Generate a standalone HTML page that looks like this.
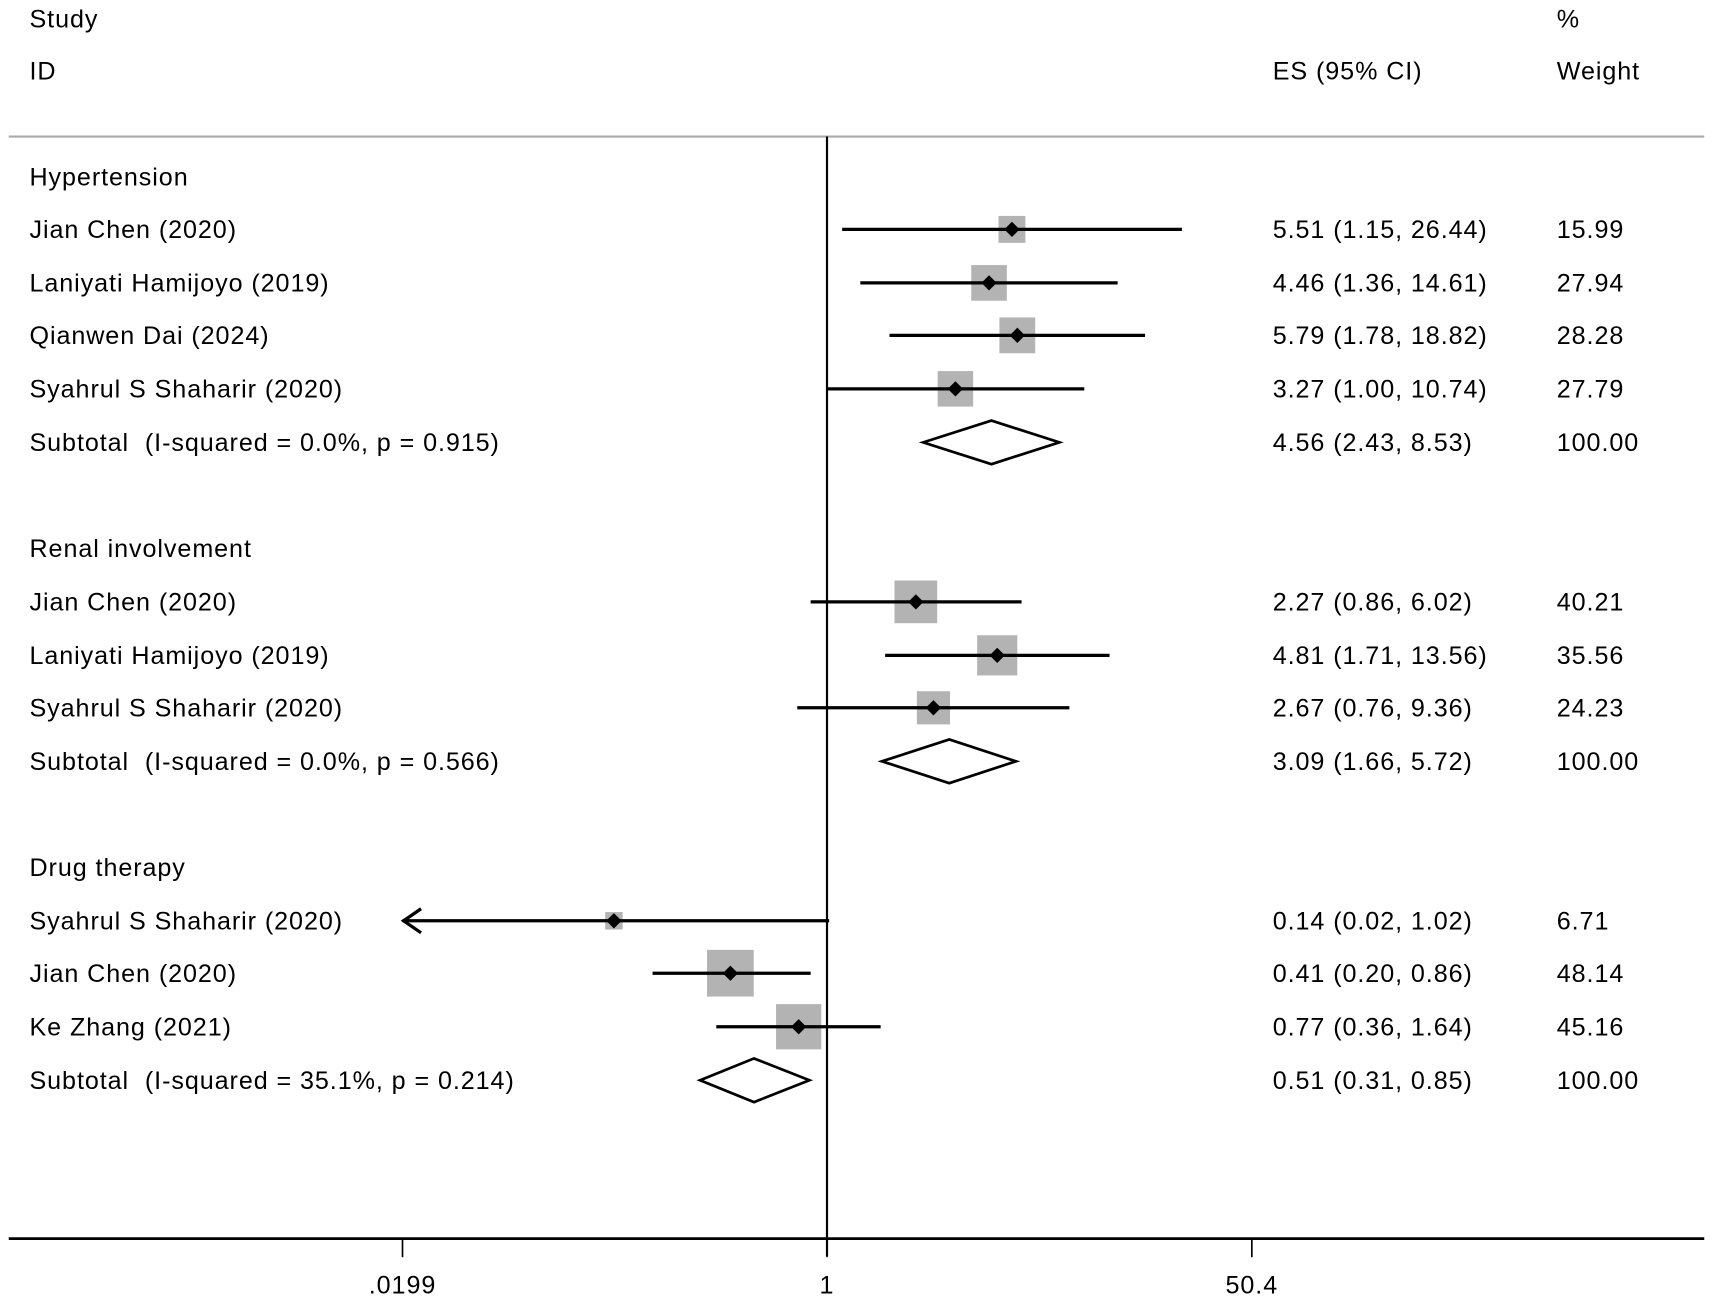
<!DOCTYPE html>
<html><head><meta charset="utf-8"><style>
html,body{margin:0;padding:0;background:#fff;}
svg{display:block;}
text{font-family:"Liberation Sans",Arial,sans-serif;font-size:23px;letter-spacing:0.85px;fill:#000;white-space:pre;}
</style></head><body>
<svg id="chart" width="1713" height="1302" viewBox="0 0 1568 1192" preserveAspectRatio="none" xmlns="http://www.w3.org/2000/svg">
<g id="g"></g>
</svg>
<script>
const labels=["Jian Chen (2020)","Laniyati Hamijoyo (2019)","Qianwen Dai (2024)","Syahrul S Shaharir (2020)","Jian Chen (2020)","Laniyati Hamijoyo (2019)","Syahrul S Shaharir (2020)","Syahrul S Shaharir (2020)","Jian Chen (2020)","Ke Zhang (2021)"];
const es=[5.51,4.46,5.79,3.27,2.27,4.81,2.67,0.14,0.41,0.77];
const lo=[1.15,1.36,1.78,1.00,0.86,1.71,0.76,0.02,0.20,0.36];
const hi=[26.44,14.61,18.82,10.74,6.02,13.56,9.36,1.02,0.86,1.64];
const weights=[15.99,27.94,28.28,27.79,40.21,35.56,24.23,6.71,48.14,45.16];
const studyRows=[210,259,307,356,551,600,648,843,891,940];
const groups=["Hypertension","Renal involvement","Drug therapy"];
const groupRows=[162,502,794];
const subLabels=["Subtotal  (I-squared = 0.0%, p = 0.915)","Subtotal  (I-squared = 0.0%, p = 0.566)","Subtotal  (I-squared = 35.1%, p = 0.214)"];
const subEs=[4.56,3.09,0.51];
const subLo=[2.43,1.66,0.31];
const subHi=[8.53,5.72,0.85];
const subRows=[405,697,989];
const ticks=[0.0199,1,50.4];
const tickLabels=[".0199","1","50.4"];

const NS="http://www.w3.org/2000/svg";
const g=document.getElementById('g');
const xMin=0.0199,xMax=50.4;
function xs(v){return 757+99.2*Math.log(v);}
function mk(tag,attrs,txt){const e=document.createElementNS(NS,tag);for(const k in attrs)e.setAttribute(k,attrs[k]);if(txt!==undefined)e.textContent=txt;g.appendChild(e);return e;}
function fmt(v){return v.toFixed(2);}

let e;
e=mk('text',{x:27,y:25},'Study');


e=mk('text',{x:27,y:73},'ID');


e=mk('text',{x:1165,y:73},'ES (95% CI)');


e=mk('text',{x:1425,y:25},'%');


e=mk('text',{x:1425,y:73},'Weight');


e=mk('line',{x1:8,x2:1560,y1:125,y2:125,stroke:'#aaa','stroke-width':2});


e=mk('line',{x1:xs(1),x2:xs(1),y1:125,y2:1150,stroke:'#000','stroke-width':2});


e=mk('line',{x1:8,x2:1560,y1:1134,y2:1134,stroke:'#000','stroke-width':2.5});


for(let i=0;i<ticks.length;i++){
  e=mk('line',{x1:xs(ticks[i]),x2:xs(ticks[i]),y1:1134,y2:1151,stroke:'#000','stroke-width':1.5});
  
  
  e=mk('text',{x:xs(ticks[i]),y:1184,'text-anchor':'middle'},tickLabels[i]);
  
  
}
for(let i=0;i<groups.length;i++){
  e=mk('text',{x:27,y:groupRows[i]+8},groups[i]);
  
  
}
for(let i=0;i<labels.length;i++){
  const y=studyRows[i];
  e=mk('text',{x:27,y:y+8},labels[i]);
  
  
  const s=Math.sqrt(38*weights[i]);
  const cx=xs(es[i]);
  e=mk('rect',{x:cx-s/2,y:y-s/2,width:s,height:s,fill:'#b3b3b3'});
  
  
  const clipLo=Math.log(lo[i])-Math.log(xMin)<0.03;
  const l=Math.max(lo[i],xMin),h=Math.min(hi[i],xMax);
  e=mk('line',{x1:clipLo?xs(xMin):xs(l),x2:xs(h),y1:y,y2:y,stroke:'#000','stroke-width':3});
  
  
  if(clipLo){
    const ax=xs(xMin);
    e=mk('polyline',{points:`${ax+17},${y-11} ${ax+1},${y} ${ax+17},${y+11}`,fill:'none',stroke:'#000','stroke-width':3});
    
    
  }
  e=mk('polygon',{points:`${cx-7},${y} ${cx},${y-7} ${cx+7},${y} ${cx},${y+7}`,fill:'#000'});
  
  
  e=mk('text',{x:1165,y:y+8},`${fmt(es[i])} (${fmt(lo[i])}, ${fmt(hi[i])})`);
  
  
  e=mk('text',{x:1425,y:y+8},fmt(weights[i]));
  
  
}
for(let i=0;i<subLabels.length;i++){
  const y=subRows[i];
  e=mk('text',{x:27,y:y+8},subLabels[i]);
  
  
  const a=xs(subLo[i]),b=xs(subHi[i]),c=xs(subEs[i]);
  e=mk('polygon',{points:`${a},${y} ${c},${y-20} ${b},${y} ${c},${y+20}`,fill:'#fff',stroke:'#000','stroke-width':2.5});
  
  
  e=mk('text',{x:1165,y:y+8},`${fmt(subEs[i])} (${fmt(subLo[i])}, ${fmt(subHi[i])})`);
  
  
  e=mk('text',{x:1425,y:y+8},'100.00');
  
  
}
</script>
</body></html>
